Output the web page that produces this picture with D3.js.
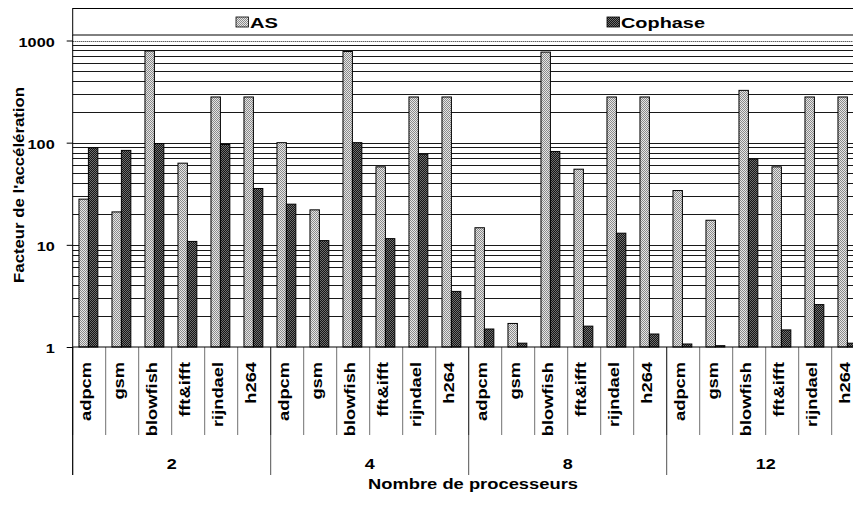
<!DOCTYPE html>
<html><head><meta charset="utf-8">
<script src="https://cdn.jsdelivr.net/npm/d3@7"></script>
<style>
html,body{margin:0;padding:0;background:#fff;}
svg text{font-family:Arial,"Liberation Sans",sans-serif;font-weight:bold;fill:#000;}
</style></head>
<body><svg id="c" width="853" height="507"></svg>
<script>
const groups = ["2", "4", "8", "12"];
const benchmarks = ["adpcm", "gsm", "blowfish", "fft&ifft", "rijndael", "h264"];
const seriesNames = ["AS", "Cophase"];
const asValues = [28, 21, 790, 63, 280, 280, 100, 22, 780, 58, 280, 280, 14.7, 1.7, 770, 55, 280, 280, 34, 17.4, 325, 58, 280, 280];
const cophaseValues = [89, 84, 98, 10.8, 96, 35.6, 25, 11, 100, 11.5, 77, 3.5, 1.5, 1.09, 82, 1.6, 13, 1.34, 1.07, 1.03, 69, 1.47, 2.6, 1.09];
const yTickValues = [1, 10, 100, 1000];
const yTitle = "Facteur de l'accélération";
const xTitle = "Nombre de processeurs";

const svg = d3.select("#c");
const left = 72.7, bandW = 33, nCat = groups.length * benchmarks.length;
const right = left + bandW * nCat;
const plotTop = 35, yBase = 347;

const cats = [];
groups.forEach(g => benchmarks.forEach(b => cats.push(g + "|" + b)));
const rows = cats.map((k, i) => ({key: k, group: k.split("|")[0], bench: k.split("|")[1], as: asValues[i], co: cophaseValues[i]}));

const x = d3.scaleBand().domain(cats).range([left, right]).paddingInner(0).paddingOuter(0);
const xg = d3.scaleBand().domain(groups).range([left, right]);
const y = d3.scaleLog().domain([1, 1000]).range([yBase, 40.5]);

// patterns
const defs = svg.append("defs");
function pat(id, base, dot) {
  const p = defs.append("pattern").attr("id", id).attr("patternUnits", "userSpaceOnUse").attr("width", 2).attr("height", 2);
  p.append("rect").attr("width", 2).attr("height", 2).attr("fill", base);
  p.append("rect").attr("width", 1).attr("height", 1).attr("fill", dot);
  p.append("rect").attr("x", 1).attr("y", 1).attr("width", 1).attr("height", 1).attr("fill", dot);
}
pat("pAS", "#e6e6e6", "#8a8a8a");
pat("pCO", "#151515", "#6e6e6e");
const fills = {AS: "url(#pAS)", Cophase: "url(#pCO)"};

function stretch(sel, target) {
  sel.each(function() {
    const n = this.getComputedTextLength();
    const t = d3.select(this);
    t.attr("transform", (t.attr("transform") || "") + ` scale(${target / n},1)`);
  });
}

// gridlines
svg.append("g").selectAll("line").data(y.ticks()).join("line")
  .attr("x1", left).attr("x2", 853)
  .attr("y1", d => Math.round(y(d)) + 0.5).attr("y2", d => Math.round(y(d)) + 0.5)
  .attr("stroke", "#000").attr("stroke-width", 1)
  .attr("stroke-dasharray", d => d === 1000 ? "1,1" : null)
  .attr("opacity", d => d === 1 ? 0 : 0.9);

// bars
const bw = bandW / 3.5, off = bw * 0.75 - 0.8;
const bars = svg.append("g");
bars.selectAll("rect.as").data(rows).join("rect").attr("class", "as")
  .attr("x", d => x(d.key) + off).attr("width", bw)
  .attr("y", d => y(d.as)).attr("height", d => yBase - y(d.as))
  .attr("fill", fills.AS).attr("stroke", "#000").attr("stroke-width", 1);
bars.selectAll("rect.co").data(rows).join("rect").attr("class", "co")
  .attr("x", d => x(d.key) + off + bw).attr("width", bw)
  .attr("y", d => y(d.co)).attr("height", d => yBase - y(d.co))
  .attr("fill", fills.Cophase).attr("stroke", "#000").attr("stroke-width", 1);

// legend
svg.append("rect").attr("x", left).attr("y", 8.5).attr("width", 900).attr("height", 26.5)
  .attr("fill", "#fff").attr("stroke", "#000").attr("stroke-width", 1);
const legendPos = [{name: "AS", sx: 236, tx: 250, len: 28}, {name: "Cophase", sx: 607, tx: 621, len: 84}];
legendPos.forEach(l => {
  svg.append("rect").attr("x", l.sx).attr("y", 17).attr("width", 12.5).attr("height", 10)
    .attr("fill", fills[l.name]).attr("stroke", "#000").attr("stroke-width", 0.8);
  const t = svg.append("text").attr("transform", `translate(${l.tx},27.5)`).attr("font-size", 15).text(l.name);
  stretch(t, l.len);
});

// y axis
const yAxis = svg.append("g").attr("transform", `translate(${left},0)`)
  .call(d3.axisLeft(y).tickValues(yTickValues).tickFormat(d3.format("d")).tickSize(6).tickSizeOuter(0));
yAxis.select(".domain").remove();
yAxis.selectAll(".tick line").attr("stroke", "#000");
yAxis.selectAll(".tick text").attr("x", null).attr("dy", "0.36em").attr("font-size", 13)
  .attr("text-anchor", "end").attr("font-family", null)
  .attr("transform", "translate(-18,1)")
  .each(function() { d3.select(this).call(stretch, this.getComputedTextLength() * 1.25); });
svg.append("line").attr("x1", left).attr("x2", left).attr("y1", plotTop).attr("y2", 475).attr("stroke", "#000");

// x axis baseline
svg.append("line").attr("x1", left).attr("x2", 853).attr("y1", yBase).attr("y2", yBase).attr("stroke", "#000").attr("stroke-width", 1.2);

// category axis labels
const xAxis = svg.append("g").attr("transform", `translate(-2.5,${yBase})`)
  .call(d3.axisBottom(x).tickSize(0).tickFormat(k => k.split("|")[1]));
xAxis.select(".domain").remove();
xAxis.selectAll(".tick text").attr("y", null).attr("dy", "0.3em").attr("font-size", 15)
  .attr("font-family", null).attr("text-anchor", "end")
  .attr("transform", "translate(0,15) rotate(-90) scale(1.22,1)");

// separators
const catEdges = cats.map(k => x(k)).concat([right]);
svg.append("g").selectAll("line").data(catEdges).join("line")
  .attr("x1", d => d).attr("x2", d => d).attr("y1", yBase).attr("y2", 435)
  .attr("stroke", "#000").attr("stroke-width", 0.8).attr("opacity", 0.7);
const grpEdges = groups.map(g => xg(g)).concat([right]);
svg.append("g").selectAll("line").data(grpEdges).join("line")
  .attr("x1", d => d).attr("x2", d => d).attr("y1", yBase).attr("y2", 475)
  .attr("stroke", "#000").attr("stroke-width", 0.9).attr("opacity", 0.75);

// group labels
const gAxis = svg.append("g").attr("transform", `translate(0,458)`)
  .call(d3.axisBottom(xg).tickSize(0));
gAxis.select(".domain").remove();
gAxis.selectAll(".tick text").attr("y", null).attr("x", 0).attr("dy", "0.71em").attr("font-size", 15).attr("font-family", null)
  .attr("transform", "scale(1.2,1)");

// titles
const xt = svg.append("text").attr("text-anchor", "middle").attr("font-size", 15)
  .attr("transform", "translate(473,489)").text(xTitle);
stretch(xt, 210);
const yt = svg.append("text").attr("text-anchor", "middle").attr("font-size", 14).attr("dy", "0.36em")
  .attr("transform", "translate(19,185) rotate(-90)").text(yTitle);
stretch(yt, 196);
</script></body></html>
